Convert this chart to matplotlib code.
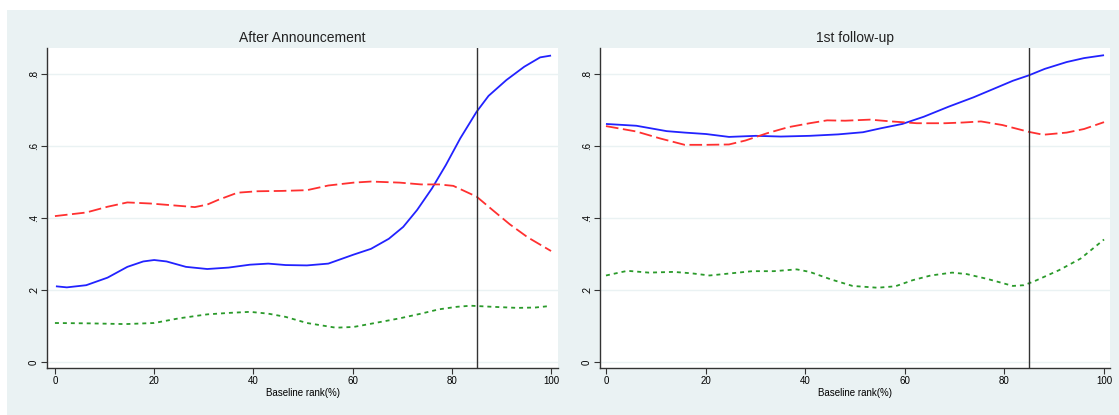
import matplotlib
matplotlib.use("Agg")
import matplotlib.pyplot as plt
import numpy as np

plt.rcParams['font.family'] = ['Liberation Sans', 'DejaVu Sans']

# ---- Data: left panel "After Announcement" ----
left_blue_x = [0.2, 2.4, 6.3, 10.6, 14.6, 17.8, 20, 22.5, 26.4, 30.7, 35, 39.3, 43, 46.5, 50.8, 55.1,
               60.2, 63.7, 67.3, 70.2, 73, 76, 78.8, 81.7, 85, 87.4, 91, 94.6, 97.8, 100]
left_blue_y = [0.210, 0.207, 0.213, 0.234, 0.264, 0.279, 0.283, 0.279, 0.264, 0.258, 0.262, 0.270, 0.273,
               0.269, 0.268, 0.273, 0.298, 0.314, 0.342, 0.375, 0.422, 0.482, 0.547, 0.621, 0.695, 0.739,
               0.783, 0.820, 0.846, 0.851]

left_red_x = [0, 6.3, 10.6, 14.6, 19.2, 22.8, 28.2, 30.7, 32.9, 36.8, 40.8, 45.8, 50.8, 55.1, 60.2, 63.7,
              69.5, 73.8, 77.4, 80.3, 82.8, 85, 88.2, 91.7, 95.3, 100]
left_red_y = [0.405, 0.415, 0.431, 0.443, 0.440, 0.436, 0.430, 0.437, 0.450, 0.470, 0.474, 0.475, 0.477,
              0.490, 0.498, 0.501, 0.498, 0.493, 0.493, 0.489, 0.473, 0.459, 0.422, 0.382, 0.346, 0.308]

left_green_x = [0, 7, 14.2, 20, 25, 30.7, 35, 39.3, 43, 46.5, 50.8, 56.6, 60.2, 64.5, 69.5, 73.8, 77.4,
                81, 83.8, 88.2, 93.2, 96.8, 99.6]
left_green_y = [0.108, 0.107, 0.105, 0.108, 0.121, 0.132, 0.136, 0.139, 0.134, 0.125, 0.108, 0.095, 0.097,
                0.108, 0.121, 0.134, 0.146, 0.153, 0.156, 0.153, 0.150, 0.151, 0.155]

# ---- Data: right panel "1st follow-up" ----
right_blue_x = [0, 6.1, 12.2, 15.8, 20.1, 24.7, 30.1, 35.1, 40.9, 46.6, 51.6, 55.2, 59.5, 63.8, 68.8,
                73.8, 78.1, 81.7, 84.9, 88.1, 92.5, 96, 100]
right_blue_y = [0.661, 0.656, 0.641, 0.637, 0.633, 0.625, 0.628, 0.626, 0.628, 0.632, 0.638, 0.649, 0.661,
                0.681, 0.709, 0.735, 0.760, 0.781, 0.796, 0.814, 0.833, 0.844, 0.852]

right_red_x = [0, 6.1, 10.8, 15.8, 20.1, 24.7, 28, 32.3, 36.6, 40.9, 44.4, 48, 53, 57.3, 62.4, 68.1, 71.7,
               75.3, 79.6, 84.9, 87.8, 92.5, 96, 100]
right_red_y = [0.655, 0.640, 0.621, 0.603, 0.603, 0.604, 0.615, 0.635, 0.652, 0.663, 0.671, 0.670, 0.673,
               0.668, 0.663, 0.663, 0.665, 0.668, 0.658, 0.639, 0.631, 0.637, 0.647, 0.666]

right_green_x = [0, 4.3, 8.6, 13.6, 17.2, 20.8, 25.1, 29.4, 33.7, 38.3, 40.9, 45.2, 49.5, 54.5, 58.1,
                 61.6, 65.2, 69.5, 72.4, 76.7, 81.7, 83.9, 86, 91, 95.3, 100]
right_green_y = [0.240, 0.253, 0.248, 0.250, 0.246, 0.240, 0.246, 0.252, 0.252, 0.257, 0.250, 0.229, 0.211,
                 0.206, 0.210, 0.227, 0.240, 0.248, 0.244, 0.230, 0.211, 0.213, 0.224, 0.255, 0.287, 0.340]

titles = ["After Announcement", "1st follow-up"]
xlabel = "Baseline rank(%)"
xticks = [0, 20, 40, 60, 80, 100]
yticks = [0, 0.2, 0.4, 0.6, 0.8]
ytick_labels = ["0", ".2", ".4", ".6", ".8"]
cutoff = 85

BG = "#eaf2f3"
W, H = 1119, 415
fig = plt.figure(figsize=(W / 100, H / 100), dpi=100)
fig.patch.set_facecolor("white")
# Stata-like graph region background
fig.patches.append(plt.Rectangle((7 / W, 0), (W - 7) / W, (H - 10) / H,
                                 transform=fig.transFigure, facecolor=BG, edgecolor="none", zorder=-10))

panels = [
    (47, 558, titles[0], (left_blue_x, left_blue_y), (left_red_x, left_red_y), (left_green_x, left_green_y)),
    (600, 1110, titles[1], (right_blue_x, right_blue_y), (right_red_x, right_red_y), (right_green_x, right_green_y)),
]

top_px, bot_px = 48, 368
for (x0, x1, title, blue, red, green) in panels:
    ax = fig.add_axes([x0 / W, 1 - bot_px / H, (x1 - x0) / W, (bot_px - top_px) / H])
    ax.set_facecolor("white")
    ax.plot(blue[0], blue[1], color="#2222ff", lw=1.3, solid_capstyle="butt")
    ax.plot(red[0], red[1], color="#ff3030", lw=1.3, dashes=(7, 2.5))
    ax.plot(green[0], green[1], color="#2a9a2a", lw=1.3, dashes=(2.2, 2.2))
    ax.axvline(cutoff, color="#333333", lw=1.0)
    if x0 < 100:
        ax.set_xlim(-1.6, 101.4)
    else:
        ax.set_xlim(-1.2, 101.2)
    ax.set_ylim(-0.017, 0.872)
    ax.set_xticks(xticks)
    ax.set_xticklabels([str(t) for t in xticks], fontsize=7)
    ax.set_yticks(yticks)
    ax.set_yticklabels(ytick_labels, fontsize=7, rotation=90, va="center")
    ax.yaxis.grid(True, color=BG, lw=1.0)
    ax.set_axisbelow(True)
    for s in ["top", "right"]:
        ax.spines[s].set_visible(False)
    for s in ["left", "bottom"]:
        ax.spines[s].set_color("#333333")
        ax.spines[s].set_linewidth(1.0)
    ax.tick_params(axis="both", colors="#333333", labelcolor="black", length=4, width=0.8, pad=2)
    ax.set_xlabel(xlabel, fontsize=7, labelpad=1)
    ax.set_title(title, fontsize=10, pad=4, color="#222222")

fig.savefig("out.png", dpi=100)
